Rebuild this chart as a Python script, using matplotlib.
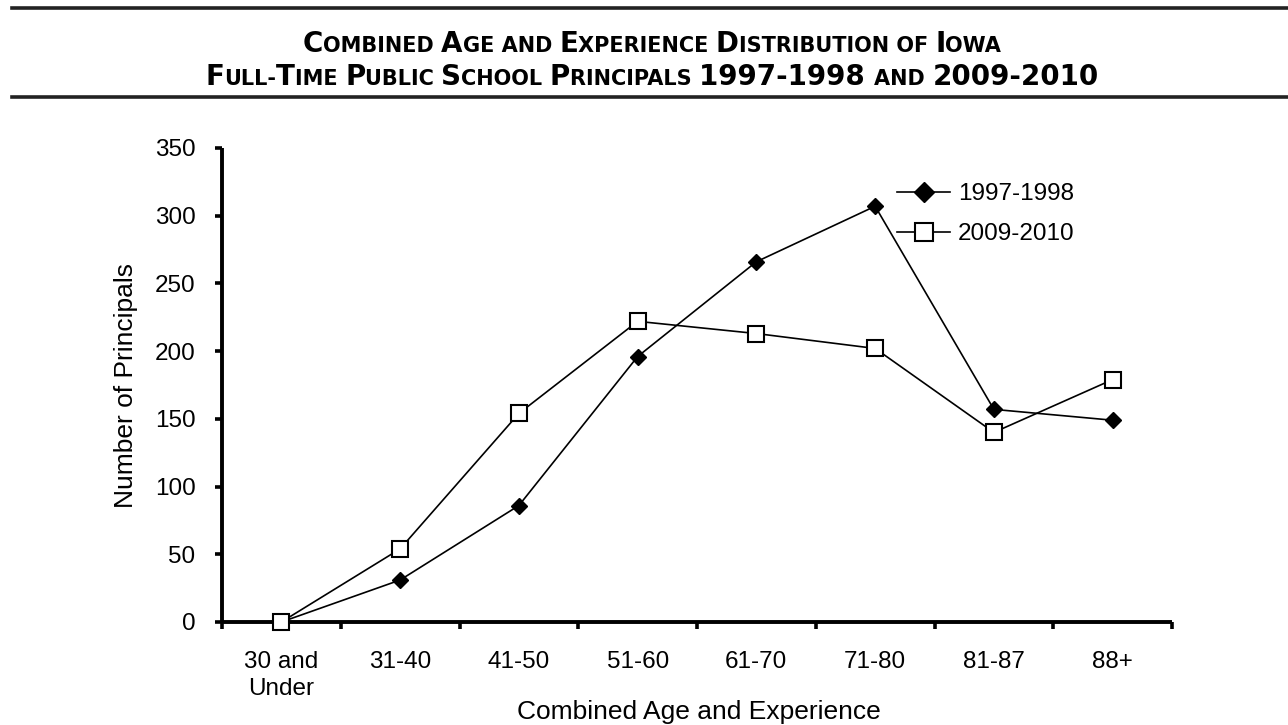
import numpy as np
import matplotlib.pyplot as plt
from matplotlib.lines import Line2D

categories = ["30 and\nUnder", "31-40", "41-50", "51-60", "61-70", "71-80", "81-87", "88+"]
y_1997 = [0, 31, 86, 196, 266, 307, 157, 149]
y_2009 = [0, 54, 154, 222, 213, 202, 140, 179]

title_lines = ["Combined Age and Experience Distribution of Iowa",
               "Full-Time Public School Principals 1997-1998 and 2009-2010"]

plt.rcParams['font.family'] = ['Liberation Sans', 'DejaVu Sans']

fig = plt.figure(figsize=(12.88, 7.25), dpi=100)
ax = fig.add_axes([222/1288, 1-622/725, (1172-222)/1288, (622-148)/725])

x = np.arange(len(categories))
ax.plot(x, y_1997, color='black', lw=1.2, marker='D', ms=8.5, mfc='black', mec='black',
        label="1997-1998", clip_on=False, zorder=3)
ax.plot(x, y_2009, color='black', lw=1.2, marker='s', ms=11, mfc='white', mec='black', mew=1.5,
        label="2009-2010", clip_on=False, zorder=4)

ax.set_xlim(-0.5, len(categories) - 0.5)
ax.set_ylim(0, 350)
ax.set_yticks(range(0, 351, 50))

# ticks at the category boundaries, labels in the middle
ax.set_xticks(np.arange(len(categories) + 1) - 0.5)
ax.set_xticklabels([])
ax.set_xticks(x, minor=True)
ax.set_xticklabels(categories, minor=True, fontsize=17.5)
for lab in ax.get_xticklabels(minor=True):
    lab.set_linespacing(1.3)
ax.tick_params(axis='x', which='major', direction='out', length=5, width=2.6)
ax.tick_params(axis='x', which='minor', length=0, pad=21)
ax.tick_params(axis='y', direction='out', length=5, width=2.6, labelsize=17.5, pad=14)

for s in ['top', 'right']:
    ax.spines[s].set_visible(False)
for s in ['left', 'bottom']:
    ax.spines[s].set_linewidth(2.8)
    ax.spines[s].set_capstyle('butt')

ax.set_ylabel("Number of Principals", fontsize=19, labelpad=12)
ax.set_xlabel("Combined Age and Experience", fontsize=19)
ax.xaxis.set_label_coords((699-222)/950, (622-700)/474)

legend = ax.legend(loc='upper left', bbox_to_anchor=((897-222)/950, (622-183)/474),
                   frameon=False, fontsize=17.5, handlelength=2.2, handletextpad=0.3,
                   labelspacing=0.75, borderaxespad=0, borderpad=0)
legend.legend_handles[0].set_markersize(10.5)
legend.legend_handles[1].set_markersize(12.5)

# rules above and below the title
fig.add_artist(Line2D([0.009, 1.0], [1-8/725, 1-8/725], transform=fig.transFigure, color='#222222', lw=2.6))
fig.add_artist(Line2D([0.009, 1.0], [1-97/725, 1-97/725], transform=fig.transFigure, color='#222222', lw=2.6))

# small caps title built from pieces
big, small = 20, 15
title_font = ['DejaVu Sans']
fig.canvas.draw()
renderer = fig.canvas.get_renderer()
line_y = [1-52/725, 1-85/725]
for line, yy in zip(title_lines, line_y):
    runs = []
    prev_big = True
    for ch in line:
        if ch.isalpha():
            is_big = ch.isupper()
        elif ch.isdigit():
            is_big = True
        else:
            is_big = prev_big
        if runs and runs[-1][1] == is_big:
            runs[-1][0] += ch.upper()
        else:
            runs.append([ch.upper(), is_big])
        prev_big = is_big
    texts = []
    widths = []
    for s, b in runs:
        t = fig.text(0, yy, s, fontsize=big if b else small, fontweight='bold',
                     family=title_font, ha='left', va='baseline')
        w = t.get_window_extent(renderer).width
        texts.append(t)
        widths.append(w)
    total = sum(widths)
    xpos = 652 - total / 2
    for t, w in zip(texts, widths):
        t.set_x(xpos / 1288)
        xpos += w

fig.savefig('out.png', dpi=100)
